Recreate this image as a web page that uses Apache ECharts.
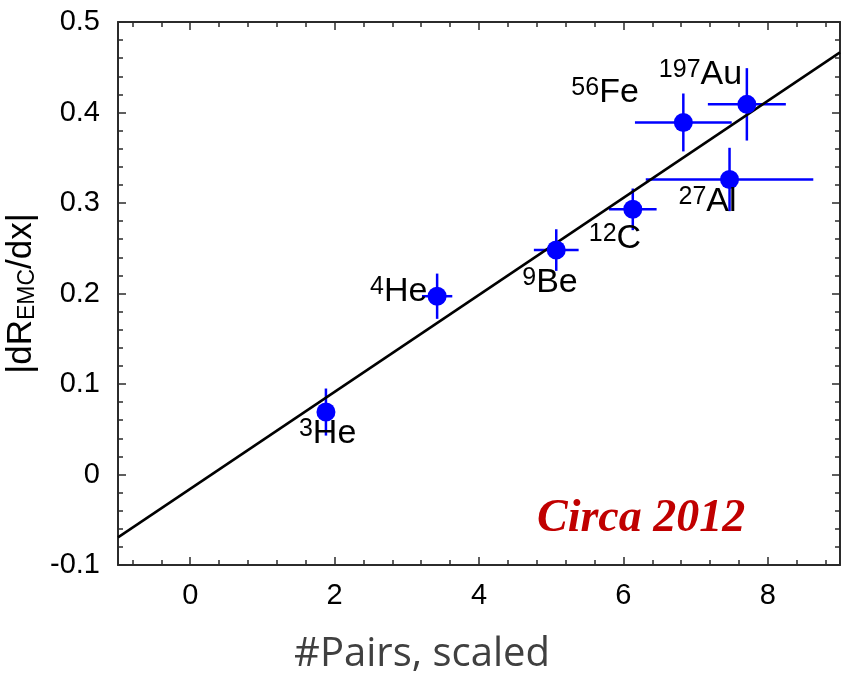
<!DOCTYPE html>
<html>
<head>
<meta charset="utf-8">
<script src="https://cdn.jsdelivr.net/npm/echarts@6/dist/echarts.min.js"></script>
<style>
  html, body { margin: 0; padding: 0; background: #ffffff; }
  #chart { width: 842px; height: 675px; }
</style>
</head>
<body>
<div id="chart"></div>
<script>
// EMC slope |dR_EMC/dx| against the scaled number of short-range pairs
const massNumber   = ['3', '4', '9', '12', '56', '197', '27'];
const elementName  = ['He', 'He', 'Be', 'C', 'Fe', 'Au', 'Al'];
const pairsScaled  = [1.88, 3.42, 5.07, 6.13, 6.83, 7.71, 7.47];
const emcSlope     = [0.069, 0.197, 0.248, 0.293, 0.389, 0.409, 0.326];
const pairsError   = [0.10, 0.21, 0.31, 0.33, 0.67, 0.54, 1.16];
const slopeError   = [0.026, 0.025, 0.023, 0.023, 0.032, 0.040, 0.035];

// straight-line fit, end points at the edges of the x range
const fitX = [-1, 9];
const fitY = [-0.0695, 0.4664];

// axis ranges and ticks
const xRange = [-1, 9];
const yRange = [-0.1, 0.5];
const xMajorTicks = [0, 2, 4, 6, 8];
const xMinorTicks = [-0.8, -0.4, 0.4, 0.8, 1.2, 1.6, 2.4, 2.8, 3.2, 3.6, 4.4, 4.8,
                     5.2, 5.6, 6.4, 6.8, 7.2, 7.6, 8.4, 8.8];
const yStep = 0.1;

// where each nucleus label sits relative to its point (px): [dx, dy]
const labelShift = {
  '3He':   [-27, 22],
  '4He':   [-67, -5],
  '9Be':   [-34, 33],
  '12C':   [-44, 29],
  '56Fe':  [-112, -30],
  '197Au': [-88, -30],
  '27Al':  [-51, 22]
};

const frameColor = '#2b2b2b';
const tickFont = 'Liberation Sans, Arial, sans-serif';

function frameAxis(extra) {
  return Object.assign({
    type: 'value',
    axisLine: { show: true, onZero: false, lineStyle: { color: frameColor, width: 2 } },
    axisTick: { show: true, inside: true, length: 8, lineStyle: { color: frameColor, width: 1.5 } },
    splitLine: { show: false },
    minorSplitLine: { show: false }
  }, extra);
}

// x axes: major ticks + labels, then a second pass for the short ticks
function xAxisPair(position, withLabels) {
  const major = frameAxis({
    position: position,
    min: xRange[0], max: xRange[1],
    axisTick: { show: true, inside: true, length: 8, customValues: xMajorTicks,
                lineStyle: { color: frameColor, width: 1.5 } },
    axisLabel: withLabels
      ? { show: true, customValues: xMajorTicks, color: '#000', fontFamily: tickFont, fontSize: 29, margin: 16 }
      : { show: false }
  });
  const minor = frameAxis({
    position: position,
    min: xRange[0], max: xRange[1],
    axisLine: { show: false, onZero: false },
    axisTick: { show: true, inside: true, length: 5, customValues: xMinorTicks,
                lineStyle: { color: frameColor, width: 1.5 } },
    axisLabel: { show: false }
  });
  return [major, minor];
}

const xAxes = xAxisPair('bottom', true).concat(xAxisPair('top', false));
xAxes[0].name = '#Pairs, scaled';
xAxes[0].nameLocation = 'middle';
xAxes[0].nameGap = 70;
xAxes[0].nameTextStyle = {
  color: '#404040', fontFamily: 'Open Sans, sans-serif', fontSize: 40,
  padding: [0, 114, 0, 0]
};

function yAxisSide(position, withLabels) {
  return frameAxis({
    position: position,
    min: yRange[0], max: yRange[1], interval: yStep,
    minorTick: { show: true, splitNumber: 5, length: 5, lineStyle: { color: frameColor, width: 1.5 } },
    axisLabel: withLabels
      ? { show: true, color: '#000', fontFamily: tickFont, fontSize: 29, margin: 18 }
      : { show: false }
  });
}

const yLeft = yAxisSide('left', true);
yLeft.name = '{b||dR}{s|EMC}{b|/dx|}';
yLeft.nameLocation = 'middle';
yLeft.nameRotate = 90;
yLeft.nameGap = 72;
yLeft.nameTextStyle = {
  rich: {
    b: { fontFamily: tickFont, fontSize: 35, lineHeight: 35, color: '#000', verticalAlign: 'top' },
    s: { fontFamily: tickFont, fontSize: 23, lineHeight: 23, color: '#000', verticalAlign: 'bottom', padding: [20, 0, 0, 0] }
  }
};

const points = pairsScaled.map((x, i) => ({
  name: massNumber[i] + elementName[i],
  value: [x, emcSlope[i]]
}));

const errorData = pairsScaled.map((x, i) => [x, emcSlope[i], pairsError[i], slopeError[i]]);

const chart = echarts.init(document.getElementById('chart'), null, { renderer: 'canvas' });

chart.setOption({
  animation: false,
  backgroundColor: '#ffffff',
  grid: { left: 118, right: 2, top: 22, bottom: 110, outerBoundsMode: 'none' },
  xAxis: xAxes,
  yAxis: [yLeft, yAxisSide('right', false)],
  graphic: [{
    type: 'text',
    x: 537,
    y: 519,
    style: {
      text: 'Circa 2012',
      fill: '#c00000',
      font: 'italic bold 46px "Liberation Serif", "Times New Roman", serif',
      verticalAlign: 'middle'
    }
  }],
  series: [
    {
      type: 'custom',
      name: 'error bars',
      xAxisIndex: 0, yAxisIndex: 0,
      z: 2,
      silent: true,
      data: errorData,
      encode: { x: 0, y: 1 },
      renderItem: function (params, api) {
        const x = api.value(0), y = api.value(1), ex = api.value(2), ey = api.value(3);
        const l = api.coord([x - ex, y]), r = api.coord([x + ex, y]);
        const t = api.coord([x, y + ey]), b = api.coord([x, y - ey]);
        const st = { stroke: '#0000ff', lineWidth: 2.5 };
        return {
          type: 'group',
          children: [
            { type: 'line', shape: { x1: l[0], y1: l[1], x2: r[0], y2: r[1] }, style: st },
            { type: 'line', shape: { x1: t[0], y1: t[1], x2: b[0], y2: b[1] }, style: st }
          ]
        };
      }
    },
    {
      type: 'line',
      name: 'fit',
      xAxisIndex: 0, yAxisIndex: 0,
      z: 3,
      silent: true,
      symbol: 'none',
      lineStyle: { color: '#000000', width: 2.5 },
      data: fitX.map((x, i) => [x, fitY[i]])
    },
    {
      type: 'scatter',
      name: 'nuclei',
      xAxisIndex: 0, yAxisIndex: 0,
      z: 4,
      symbol: 'circle',
      symbolSize: 19,
      itemStyle: { color: '#0000ff', opacity: 1 },
      data: points.map(p => Object.assign({}, p, {
        label: { offset: labelShift[p.name] }
      })),
      label: {
        show: true,
        position: 'inside',
        align: 'left',
        verticalAlign: 'middle',
        color: '#000',
        opacity: 1,
        formatter: function (p) {
          const i = p.dataIndex;
          return '{sup|' + massNumber[i] + '}{el|' + elementName[i] + '}';
        },
        rich: {
          sup: { fontFamily: tickFont, fontSize: 25, lineHeight: 25, color: '#000', verticalAlign: 'top' },
          el: { fontFamily: tickFont, fontSize: 34, lineHeight: 34, color: '#000', verticalAlign: 'bottom', padding: [10, 0, 0, 0] }
        }
      }
    }
  ]
});
</script>
</body>
</html>
